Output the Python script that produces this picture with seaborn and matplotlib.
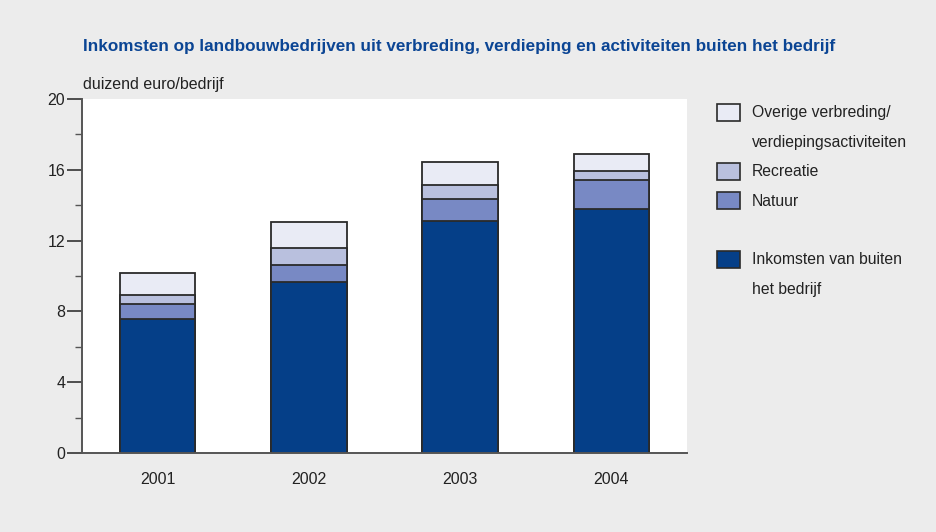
import matplotlib
matplotlib.use("Agg")
import matplotlib.pyplot as plt
import seaborn as sns
import pandas as pd
import numpy as np
from matplotlib.patches import Rectangle

years = ["2001", "2002", "2003", "2004"]
buiten = [7.55, 9.68, 13.12, 13.77]
natuur = [0.85, 0.94, 1.23, 1.65]
recreatie = [0.55, 0.98, 0.79, 0.53]
overige = [1.20, 1.45, 1.32, 0.93]

series_names = ["Inkomsten van buiten\nhet bedrijf", "Natuur", "Recreatie",
                "Overige verbreding/\nverdiepingsactiviteiten"]
series_vals = [buiten, natuur, recreatie, overige]
colors = ["#053f88", "#7889c4", "#b9c0de", "#e9ebf5"]

title = "Inkomsten op landbouwbedrijven uit verbreding, verdieping en activiteiten buiten het bedrijf"
ylabel = "duizend euro/bedrijf"

sns.set_theme(style="white")
plt.rcParams['font.family'] = ['Liberation Sans', 'DejaVu Sans']

bg = "#ececec"
fig = plt.figure(figsize=(9.36, 5.32), dpi=100, facecolor=bg)
ax = fig.add_axes([82/936, 1 - 453/532, (687-82)/936, (453-99)/532])
ax.set_facecolor("white")

bottoms = np.zeros(len(years))
df_all = []
for name, vals, col in zip(series_names, series_vals, colors):
    df = pd.DataFrame({"year": years, "val": np.array(vals) + bottoms})
    df_all.append((df, col))
    bottoms = bottoms + np.array(vals)

# draw from top (cumulative) down so lower segments overlay
for df, col in reversed(df_all):
    sns.barplot(data=df, x="year", y="val", color=col, width=0.5,
                edgecolor="#2a2a2a", linewidth=1.3, ax=ax, saturation=1)

ax.set_xlim(-0.5, 3.5)
ax.set_ylim(0, 20)
ax.set_yticks([0, 4, 8, 12, 16, 20])
ax.set_yticks([2, 6, 10, 14, 18], minor=True)
ax.tick_params(axis="y", which="major", length=11, width=1.2, color="#333333",
               labelsize=11.5, labelcolor="#222222", pad=1, left=True, direction="out")
ax.tick_params(axis="y", which="minor", length=5, width=1.0, color="#555555", left=True)
ax.tick_params(axis="x", length=0, labelsize=11.5, labelcolor="#222222", pad=14)
ax.set_xlabel("")
ax.set_ylabel("")
for s in ["top", "right"]:
    ax.spines[s].set_visible(False)
for s in ["left", "bottom"]:
    ax.spines[s].set_color("#555555")
    ax.spines[s].set_linewidth(1.4)

fig.text(83/936, 1 - 46/532, title, fontsize=12.35, fontweight="bold", color="#0b4594",
         va="center", ha="left")
fig.text(83/936, 1 - 85/532, ylabel, fontsize=11.5, color="#222222", va="center", ha="left")

# legend (manual)
leg_items = [
    (colors[3], ["Overige verbreding/", "verdiepingsactiviteiten"], 113),
    (colors[2], ["Recreatie"], 172),
    (colors[1], ["Natuur"], 201),
    (colors[0], ["Inkomsten van buiten", "het bedrijf"], 260),
]
for col, lines, ypix in leg_items:
    r = Rectangle((717/936, 1 - (ypix + 8)/532), 23/936, 17/532, transform=fig.transFigure,
                  facecolor=col, edgecolor="#2a2a2a", linewidth=1.2)
    fig.patches.append(r)
    for i, ln in enumerate(lines):
        fig.text(752/936, 1 - (ypix + 29.5*i)/532, ln, fontsize=11.3, color="#222222",
                 va="center", ha="left")

fig.savefig("out.png", dpi=100, facecolor=bg)
